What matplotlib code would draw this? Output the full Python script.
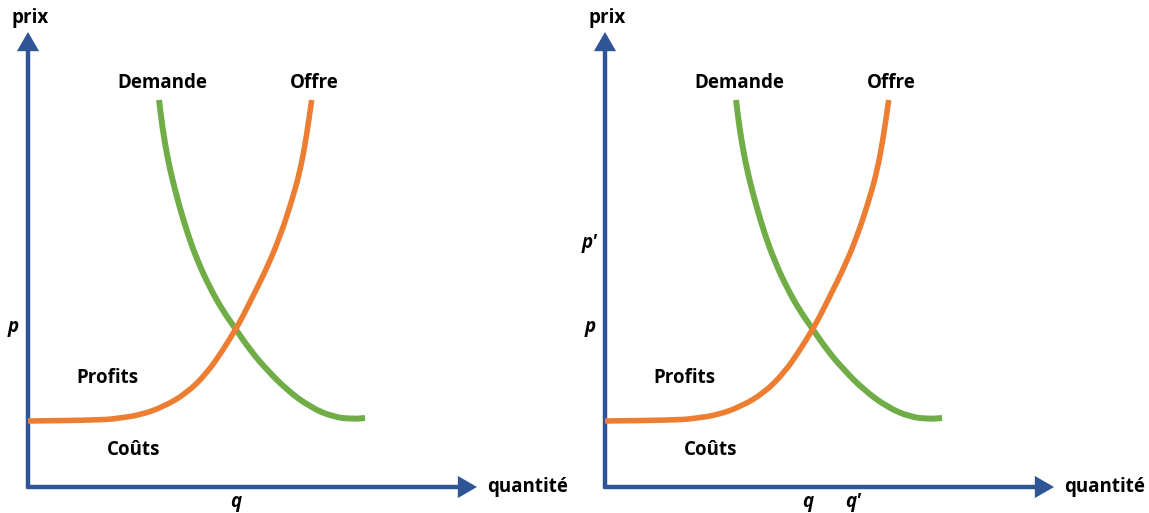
import matplotlib
matplotlib.use("Agg")
import matplotlib.pyplot as plt
from matplotlib.path import Path
from matplotlib.patches import PathPatch

# ---- data (quantity, price) in chart units ----
supply_q = [0, 75, 92, 112, 135, 159, 179, 195, 209, 215.5, 227, 240.3, 252.5, 262.5, 272, 278.7, 283.7]
supply_p = [66, 67, 69, 72, 80, 94, 114, 137, 160, 172, 195, 222, 252, 282, 315, 352, 387]

demand_q = [131, 134.5, 139, 144, 151, 160, 170, 182, 195, 207, 222, 239, 259, 282, 305, 325, 337]
demand_p = [387, 359, 332, 309, 282, 252, 225, 199, 176, 159, 137, 117, 97, 80, 70, 68, 69]

p_eq, q_eq = 160, 208
p_prime, q_prime = 244, 248
q_eq_right = 203

curve_labels = ["Demande", "Offre"]
area_labels = ["Profits", "Coûts"]
axis_labels = ["prix", "quantité"]

BLUE = "#2F5597"
ORANGE = "#ED7D31"
GREEN = "#70AD47"
FONT = ["Open Sans", "DejaVu Sans"]

W, H = 1149, 513
fig = plt.figure(figsize=(W / 100, H / 100), dpi=100)


def smooth_path(xs, ys):
    """Quadratic-Bezier path using the read points as control points."""
    pts = list(zip(xs, ys))
    verts = [pts[0]]
    codes = [Path.MOVETO]
    mid = lambda a, b: ((a[0] + b[0]) / 2, (a[1] + b[1]) / 2)
    verts.append(mid(pts[0], pts[1]))
    codes.append(Path.LINETO)
    for i in range(1, len(pts) - 1):
        verts += [pts[i], mid(pts[i], pts[i + 1])]
        codes += [Path.CURVE3, Path.CURVE3]
    verts.append(pts[-1])
    codes.append(Path.LINETO)
    return Path(verts, codes)


def panel(left_px, width_px, right):
    ax = fig.add_axes([left_px / W, 0, width_px / W, 1])
    ax.set_xlim(-28, width_px - 28)
    ax.set_ylim(-26, 487)
    ax.axis("off")
    arrow = dict(arrowstyle="-|>,head_length=0.45,head_width=0.26", lw=3.2,
                 color=BLUE, shrinkA=0, shrinkB=0, mutation_scale=20,
                 joinstyle="miter", capstyle="butt")
    ax.annotate("", xy=(0, 455), xytext=(0, -1.5), arrowprops=arrow)
    ax.annotate("", xy=(449, 0), xytext=(-1.5, 0), arrowprops=arrow)

    ax.add_patch(PathPatch(smooth_path(demand_q, demand_p), fill=False,
                           edgecolor=GREEN, lw=4.3, capstyle="butt",
                           joinstyle="round", zorder=3))
    ax.add_patch(PathPatch(smooth_path(supply_q, supply_p), fill=False,
                           edgecolor=ORANGE, lw=4.0, capstyle="butt",
                           joinstyle="round", zorder=4))

    tk = dict(fontfamily=FONT, fontweight="bold", fontsize=13.5,
              ha="center", va="center", color="black")
    ax.text(2, 469, axis_labels[0], **tk)
    ax.text(459, 0, axis_labels[1], **{**tk, "ha": "left"})
    ax.text(134, 404, curve_labels[0], **tk)
    ax.text(286, 404, curve_labels[1], **tk)
    ax.text(79, 109, area_labels[0], **tk)
    ax.text(106, 37, area_labels[1], **tk)

    it = dict(fontfamily=FONT, fontweight="bold", fontstyle="italic",
              fontsize=13.5, ha="center", va="center", color="black")
    ax.text(-15, p_eq, "p", **it)
    if right:
        ax.text(-15, p_prime, "p\u2032", **it)
        ax.text(q_eq_right, -15, "q", **it)
        ax.text(q_prime, -15, "q\u2032", **it)
    else:
        ax.text(q_eq, -15, "q", **it)
    return ax


panel(0, 577, False)
panel(577, 572, True)

fig.savefig("out.png", dpi=100, facecolor="white")
